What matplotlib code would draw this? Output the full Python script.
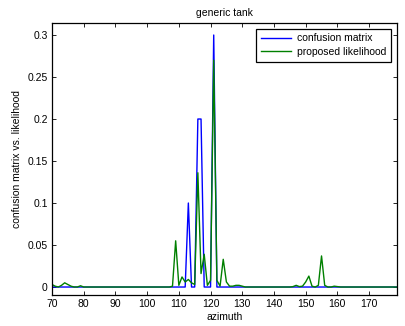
import numpy as np
import matplotlib
matplotlib.use("Agg")
import matplotlib.pyplot as plt

plt.rcParams['font.family'] = ['Liberation Sans', 'DejaVu Sans']

azimuth = list(range(70, 180))

# sparse non-zero values (azimuth -> value)
confusion_nonzero = {113: 0.1, 116: 0.2, 117: 0.2, 121: 0.3}
likelihood_nonzero = {
    70: 0.003, 71: 0.001, 73: 0.002, 74: 0.005, 75: 0.003, 76: 0.001, 79: 0.0015,
    108: 0.001, 109: 0.055, 110: 0.002, 111: 0.012, 112: 0.006, 113: 0.009,
    114: 0.005, 115: 0.003, 116: 0.136, 117: 0.016, 118: 0.039, 119: 0.002,
    120: 0.008, 121: 0.27, 122: 0.008, 123: 0.001, 124: 0.033, 125: 0.006,
    126: 0.001, 127: 0.001, 128: 0.002, 129: 0.002, 130: 0.001,
    146: 0.0005, 147: 0.002, 148: 0.0005, 149: 0.001, 150: 0.006, 151: 0.013,
    152: 0.001, 154: 0.002, 155: 0.037, 156: 0.002, 159: 0.001, 160: 0.0005,
}

confusion = [confusion_nonzero.get(a, 0.0) for a in azimuth]
likelihood = [likelihood_nonzero.get(a, 0.0) for a in azimuth]

xticks = list(range(70, 171, 10))
yticks = [0, 0.05, 0.1, 0.15, 0.2, 0.25, 0.3]
yticklabels = ['0', '0.05', '0.1', '0.15', '0.2', '0.25', '0.3']

fig = plt.figure(figsize=(4.06, 3.26), dpi=100)
ax = fig.add_axes([52/406, 31/326, (397-52)/406, (295-23)/326])

ax.plot(azimuth, confusion, color=(0, 0, 1), lw=1.0, label='confusion matrix')
ax.plot(azimuth, likelihood, color=(0, 0.5, 0), lw=1.0, label='proposed likelihood')

ax.set_xlim(70, 178.8)
ax.set_ylim(-0.0095, 0.3143)
ax.set_xticks(xticks)
ax.set_yticks(yticks)
ax.set_yticklabels(yticklabels)
ax.tick_params(direction='in', top=True, right=True, length=3, width=0.6,
               labelsize=7.5, pad=3)
for s in ax.spines.values():
    s.set_linewidth(0.9)

ax.set_title('generic tank', fontsize=7.5, pad=5)
ax.set_xlabel('azimuth', fontsize=7.5, labelpad=2)
ax.set_ylabel('confusion matrix vs. likelihood', fontsize=7.5, labelpad=4)

leg = ax.legend(loc='upper right', fontsize=7.5, fancybox=False, framealpha=1,
                edgecolor='black', borderaxespad=0.55, handlelength=2.9,
                borderpad=0.45, labelspacing=0.35, handletextpad=0.6)
leg.get_frame().set_linewidth(0.9)

fig.savefig('out.png', dpi=100)
